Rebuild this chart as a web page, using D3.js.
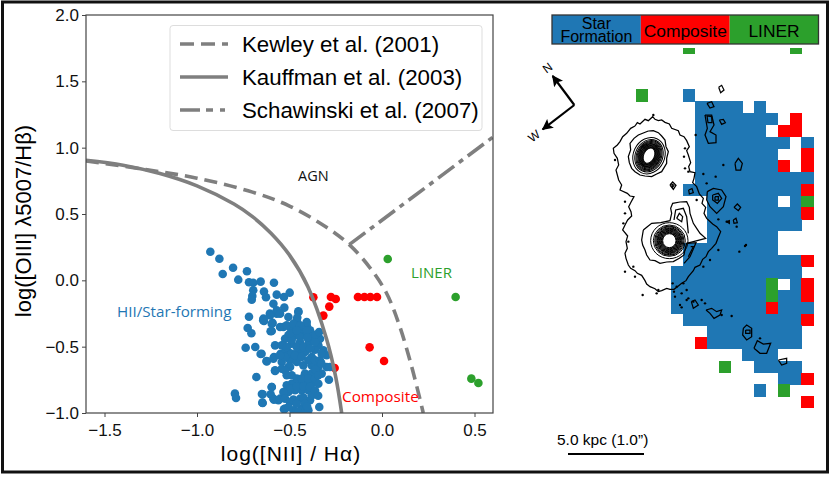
<!DOCTYPE html>
<html>
<head>
<meta charset="utf-8">
<script src="https://cdn.jsdelivr.net/npm/d3@7"></script>
<style>
  body { margin: 0; background: #fff; }
  text { font-family: "Liberation Sans", sans-serif; }
  .note { font-family: "Open Sans", sans-serif; }
</style>
</head>
<body>
<div id="chart"></div>
<script>
// BPT diagram values
var xTicks = [-1.5, -1.0, -0.5, 0.0, 0.5];
var yTicks = [-1.0, -0.5, 0.0, 0.5, 1.0, 1.5, 2.0];

var starForming = [
  [-.642,-.301],[-.606,-.251],[-.569,-.251],[-.596,-.382],[-.591,-.321],[-.506,-.276],[-.452,-.239],[-.461,-.301],
  [-.533,-.352],[-.497,-.352],[-.452,-.352],[-.407,-.339],[-.389,-.377],[-.506,-.414],[-.470,-.414],[-.425,-.402],
  [-.380,-.427],[-.335,-.440],[-.578,-.490],[-.533,-.490],[-.488,-.477],[-.443,-.465],[-.398,-.477],[-.344,-.490],
  [-.362,-.522],[-.651,-.553],[-.624,-.608],[-.584,-.578],[-.548,-.553],[-.506,-.540],[-.452,-.528],[-.416,-.540],
  [-.380,-.578],[-.299,-.565],[-.542,-.615],[-.497,-.603],[-.461,-.615],[-.578,-.678],[-.542,-.666],[-.506,-.653],
  [-.488,-.716],[-.425,-.641],[-.380,-.641],[-.344,-.653],[-.299,-.653],[-.416,-.703],[-.380,-.703],[-.326,-.703],
  [-.287,-.749],[-.488,-.779],[-.452,-.766],[-.416,-.766],[-.380,-.779],[-.596,-.804],[-.645,-.859],[-.645,-.924],
  [-.587,-.892],[-.560,-.904],[-.506,-.842],[-.470,-.829],[-.434,-.829],[-.398,-.829],[-.479,-.899],[-.443,-.892],
  [-.389,-.904],[-.339,-.955],[-.524,-.967],[-.479,-.980],[-.434,-.967],[-.398,-.980],
  [-.928,.216],[-.879,.163],[-.805,.095],[-.730,.068],[-.861,.048],[-.777,.005],[-.719,-.015],[-.696,-.018],
  [-.656,-.010],[-.584,-.018],[-.696,-.075],[-.638,-.085],[-.701,-.118],[-.704,-.146],[-.627,-.128],[-.569,-.108],
  [-.530,-.126],[-.499,-.093],[-.587,-.176],[-.528,-.206],[-.569,-.226],[-.551,-.251],[-.605,-.264],[-.641,-.289],
  [-.638,-.307],[-.719,-.274],[-.596,-.327],[-.602,-.384],[-.726,-.359],[-.706,-.399],[-.452,-.234],[-.458,-.281],
  [-.737,-.508],[-.685,-.503],[-.656,-.555],[-.623,-.611],[-.679,-.729],[-.795,-.854],[-.789,-.887],[-.649,-.857],
  [-.647,-.922],[-.596,-.804],[-.602,-.859],[-.584,-.899],[-.551,-.892],[-.524,-.854],[-.587,-.59],[-.578,-.683],
  [-.530,-.972],
  [-.479,-.377],[-.443,-.377],[-.407,-.377],[-.524,-.440],[-.488,-.447],[-.443,-.427],[-.404,-.432],[-.362,-.465],
  [-.461,-.502],[-.425,-.502],[-.389,-.515],[-.524,-.540],[-.488,-.553],[-.470,-.565],[-.434,-.578],[-.524,-.578],
  [-.497,-.653],[-.524,-.678],[-.515,-.716],[-.461,-.741],[-.434,-.741],[-.398,-.741],[-.362,-.741],[-.398,-.603],
  [-.362,-.603],[-.335,-.603],[-.362,-.673],[-.515,-.791],[-.497,-.816],[-.461,-.799],[-.425,-.799],[-.389,-.804],
  [-.533,-.842],[-.524,-.892],[-.497,-.917],[-.425,-.884],[-.380,-.867],[-.461,-.930],[-.416,-.930],[-.506,-.955],
  [-.452,-.992],[-.416,-.992],[-.317,-.528],[-.407,-.314],[-.551,-.352],[-.515,-.339],[-.479,-.327],[-.443,-.339],
  [-.542,-.490],[-.515,-.503],[-.551,-.565],[-.497,-.402],[-.461,-.377],[-.281,-.653],[-.326,-.553],[-.344,-.715],
  [-.344,-.78],[-.362,-.83],[-.345,-.87],[-.405,-.95],[-.328,-.625],[-.36,-.41],[-.34,-.39]
];
var composite = [
  [-.371,-.128],[-.276,-.126],[-.250,-.141],[-.285,-.198],[-.317,-.266],[-.130,-.126],[-.095,-.126],[-.063,-.126],
  [-.027,-.126],[-.067,-.505],[.011,-.608],[-.256,-.661]
];
var liner = [[.031,.161],[.398,-.126],[.483,-.741],[.521,-.774]];

var kewley = [[-1.6,.90],[-1.3,.84],[-1.0,.77],[-.7,.665],[-.5,.56],[-.3,.40],[-.177,.269],[-.068,.10],[.022,-.09],[.094,-.34],[.166,-.68],[.223,-1.0]];
var kauffman = [[-1.6,.905],[-1.4,.868],[-1.2,.805],[-1.0,.712],[-.8,.575],[-.7,.48],[-.6,.355],[-.5,.19],[-.4,-.05],[-.3,-.44],[-.25,-.73],[-.218,-1.0]];
var schawinski = [[-.177,.269],[.6,1.08]];

var legendNames = ["Kewley et al. (2001)", "Kauffman et al. (2003)", "Schawinski et al. (2007)"];
var plotDash = ["13,7", null, "20,6,5,6"];
var legendDash = ["14,7", null, "20,6,7,7,5,20"];

// spaxel map, one string per row: S star formation, C composite, L liner
var mapClasses = ["Star\nFormation", "Composite", "LINER"];
var mapRows = [
  "....L........L.",
  "...............",
  "...............",
  "...............",
  "L...S..........",
  ".....SSSS.S....",
  ".....SSSSSSS.C.",
  ".....SSSSSS.CC.",
  ".....SSSSSSSS.S",
  ".....SSSSSSS..C",
  ".....SSSSSSSC.C",
  ".....SSSSSSSSSS",
  "....SSSSSSSSSSC",
  "......SSSSSS.SL",
  "......SSSSSSSSC",
  "......SSSSSSSS.",
  "......SSSSSS...",
  "....SSSSSSSS...",
  "....SSSSSSSSSSC",
  "...SSSSSSSSSSS.",
  "...SSSSSSSSL.SC",
  "...SSSSSSSSLSSC",
  "...SSSSSSSSCSSS",
  "....SSSSSSSSSSC",
  "......SSSSSSSS.",
  ".....CSSSSSSSS.",
  ".........SSS...",
  ".......L..SSSS.",
  "............SSC",
  "..........S.L..",
  "..............C"
];
var firstRow = -4;

// flux contours in image units (3 units per screen pixel)
var contourLines = [
  [[315,378],[322,368],[330,372],[345,358],[355,362],[368,350],[375,358],[385,362],[395,360],[405,367],[418,372],[425,385],[445,392],[450,405],[462,410],[470,422],[478,440],[470,452],[475,465],[482,488],[476,500],[480,515],[495,518],[492,535],[488,548],[500,560],[508,582],[520,595],[516,610],[527,622],[522,640],[530,655],[548,672],[560,680],[572,695],[565,712],[558,730],[545,745],[535,755],[528,770],[518,778],[510,795],[495,802],[490,812],[475,830],[468,842],[455,850],[445,858],[432,868],[420,868],[410,865],[395,872],[385,875],[375,866],[360,860],[350,852],[345,842],[335,826],[322,820],[315,812],[302,805],[295,795],[288,775],[285,760],[292,745],[288,725],[293,708],[278,690],[285,675],[293,660],[305,648],[303,635],[296,620],[302,608],[312,590],[300,588],[292,580],[270,570],[275,555],[266,540],[262,525],[258,510],[266,495],[262,475],[252,460],[250,445],[262,435],[270,425],[278,410],[290,400],[302,385],[315,378]],
  [[355,393],[370,392],[385,398],[395,408],[405,420],[408,440],[415,455],[410,475],[410,490],[395,515],[380,522],[365,530],[345,528],[330,525],[315,515],[305,505],[298,488],[295,470],[302,450],[300,430],[312,415],[325,405],[355,393]],
  [[340,690],[352,680],[365,670],[392,668],[420,662],[425,640],[422,625],[428,610],[450,606],[470,605],[478,622],[480,640],[490,670],[500,685],[510,700],[527,715],[490,725],[470,730],[465,748],[462,765],[448,775],[430,785],[410,786],[390,790],[375,782],[360,780],[350,765],[345,750],[338,735],[335,720],[340,690]],
  [[432,660],[437,630],[460,625],[470,650],[475,700]],
  [[440,655],[448,640],[458,650],[455,665],[440,655]],
  [[470,730],[498,728],[480,770],[462,790]],
  [[482,740],[490,740],[475,770]],
  [[525,345],[545,345],[552,375],[540,395],[558,405],[558,428],[535,430],[525,405],[532,385],[525,345]],
  [[531,348],[545,350],[546,368],[534,368],[531,348]],
  [[531,310],[545,305],[552,320],[540,324],[531,310]],
  [[568,360],[580,358],[586,368],[575,373],[568,360]],
  [[566,262],[575,256],[582,270],[572,278],[566,262]],
  [[615,490],[625,475],[637,490],[632,510],[618,510],[615,490]],
  [[532,575],[550,565],[575,570],[588,590],[580,620],[560,640],[540,620],[530,600],[532,575]],
  [[548,585],[565,580],[575,595],[562,610],[548,600],[548,585]],
  [[555,590],[565,590],[565,600],[555,600],[555,590]],
  [[612,622],[622,612],[632,622],[625,632],[612,622]],
  [[528,930],[545,925],[560,935],[575,930],[570,945],[552,955],[540,940],[528,930]],
  [[640,985],[650,975],[665,985],[665,1010],[650,1020],[638,1005],[640,985]],
  [[647,990],[660,990],[660,1000],[647,1000],[647,990]],
  [[672,1045],[682,1022],[700,1032],[722,1030],[710,1060],[690,1060],[672,1045]],
  [[745,1080],[770,1075],[770,1090],[755,1095],[745,1080]],
  [[484,905],[495,900],[505,915],[490,925],[484,905]],
  [[420,555],[428,546],[438,556],[430,568],[420,555]],
  [[425,552],[432,556],[428,562],[425,552]],
  [[476,570],[486,566],[490,578],[478,582],[476,570]],
  [[610,660],[618,655],[622,668],[612,670],[610,660]],
  [[590,665],[598,662],[598,670],[590,665]]
];
var contourDots = [
  [497,405],[580,495],[520,522],[557,530],[530,550],[462,470],[500,600],[565,658],[590,665],[620,680],[648,735],[628,755],
  [565,750],[540,780],[520,800],[470,870],[455,880],[435,890],[450,915],[470,900],[490,905],[515,900],[605,948],[380,880],
  [338,885],[315,830],[285,815],[465,445],[285,605],[645,738],[428,850],[440,860],[432,875],[460,850],[475,895],[455,922],
  [525,910],[575,945],[690,1015],[370,345],[255,480],[285,640],[280,670],[295,725],[310,800],[385,870],[465,505],[475,515]
];
var topRings = [[16,24],[18,26],[20,28],[22,30],[24,32],[26,34],[28,36],[30,38],[32,41],[34,44],[37,47],[41,50],[47,56]];
var bottomRings = [[20,21],[22,23],[24,25],[26,27],[28,29],[30,31],[32,33],[34,35],[36,37],[38,39],[41,42],[44,44],[48,47],[56,54]];

var width = 831, height = 477;
var svg = d3.select("#chart").append("svg").attr("width", width).attr("height", height);

// ---- left panel
var x = d3.scaleLinear().domain([-1.6, 0.6]).range([86, 493]);
var y = d3.scaleLinear().domain([-1, 2]).range([413, 15]);

var clipPlot = svg.append("clipPath").attr("id", "plotclip");
clipPlot.append("rect").attr("x", 86).attr("y", 15).attr("width", 407).attr("height", 398);
var plot = svg.append("g").attr("clip-path", "url(#plotclip)");

function drawPoints(data, color) {
  plot.selectAll(null).data(data).enter().append("circle")
    .attr("cx", function(d) { return x(d[0]); })
    .attr("cy", function(d) { return y(d[1]); })
    .attr("r", 4.3)
    .attr("fill", color);
}
drawPoints(composite, "#ff0000");
drawPoints(liner, "#2ca02c");
drawPoints(starForming, "#1f77b4");

var line = d3.line()
  .x(function(d) { return x(d[0]); })
  .y(function(d) { return y(d[1]); })
  .curve(d3.curveCatmullRom);

[kewley, kauffman, schawinski].forEach(function(c, i) {
  plot.append("path").attr("d", line(c))
    .attr("fill", "none")
    .attr("stroke", "#7f7f7f")
    .attr("stroke-width", 3.6)
    .attr("stroke-dasharray", plotDash[i]);
});

var xAxis = d3.axisBottom(x).tickValues(xTicks).tickSize(4).tickFormat(d3.format(".1f"));
var yAxis = d3.axisLeft(y).tickValues(yTicks).tickSize(4).tickFormat(d3.format(".1f"));
var gx = svg.append("g").attr("transform", "translate(0,413)").call(xAxis);
var gy = svg.append("g").attr("transform", "translate(86,0)").call(yAxis);
gx.selectAll("text").attr("font-size", 17).attr("dy", "0.95em").text(function(d) { return d3.format(".1f")(d).replace("-", "\u2212 "); });
gy.selectAll("text").attr("font-size", 17);
svg.selectAll(".domain").remove();
svg.selectAll(".tick line").attr("stroke", "#444").attr("stroke-width", 1);
gx.selectAll("text").attr("fill", "#111");
gy.selectAll("text").attr("fill", "#111");

svg.append("rect").attr("x", 86).attr("y", 15).attr("width", 407).attr("height", 398)
  .attr("fill", "none").attr("stroke", "#444").attr("stroke-width", 1.2);

svg.append("text").attr("x", 291).attr("y", 461).attr("text-anchor", "middle")
  .attr("font-size", 21).attr("letter-spacing", 1).text("log([NII] / H\u03b1)");
svg.append("text").attr("transform", "translate(31,221) rotate(-90)").attr("text-anchor", "middle")
  .attr("font-size", 22).text("log([OIII] \u03bb5007/H\u03b2)");

// legend
svg.append("rect").attr("x", 170).attr("y", 25.5).attr("width", 312).attr("height", 105).attr("rx", 3)
  .attr("fill", "#fff").attr("stroke", "#ddd");
legendNames.forEach(function(name, i) {
  var ly = 44 + i * 33;
  svg.append("line").attr("x1", 180).attr("x2", 228).attr("y1", ly).attr("y2", ly)
    .attr("stroke", "#7f7f7f").attr("stroke-width", 3.6).attr("stroke-dasharray", legendDash[i]);
  svg.append("text").attr("x", 242).attr("y", ly + 7.5).attr("font-size", 22.3).text(name);
});

// region labels
function note(t, px, py, color, size) {
  svg.append("text").attr("class", "note").attr("x", px).attr("y", py)
    .attr("fill", color).attr("font-size", size).text(t);
}
note("AGN", 298, 180.5, "#111", 14.5);
note("HII/Star-forming", 117, 316.5, "#1f77b4", 15.2);
note("LINER", 411, 278, "#2ca02c", 15);
note("Composite", 342, 401.5, "#ff0000", 15.3);

// ---- right panel
var colors = { S: "#1f77b4", C: "#ff0000", L: "#2ca02c" };
var mapX = d3.scaleBand().domain(d3.range(15)).range([635.8, 813.3]);
var mapY = d3.scaleBand().domain(d3.range(firstRow, firstRow + mapRows.length)).range([89.3 + firstRow * 11.8, 89.3 + (firstRow + mapRows.length) * 11.8]);

var clipMap = svg.append("clipPath").attr("id", "mapclip");
clipMap.append("rect").attr("x", 600).attr("y", 48).attr("width", 231).attr("height", 420);
var map = svg.append("g").attr("clip-path", "url(#mapclip)").attr("shape-rendering", "crispEdges");

mapRows.forEach(function(row, r) {
  row.split("").forEach(function(c, k) {
    if (c === ".") return;
    map.append("rect")
      .attr("x", mapX(k)).attr("y", mapY(firstRow + r))
      .attr("width", mapX.bandwidth() + 0.4).attr("height", mapY.bandwidth() + 0.4)
      .attr("fill", colors[c]);
  });
});

// contours
var imgX = d3.scaleLinear().domain([0, 900]).range([530, 830]);
var imgY = d3.scaleLinear().domain([0, 1431]).range([0, 477]);
var contourPath = d3.line()
  .x(function(d) { return imgX(d[0]); })
  .y(function(d) { return imgY(d[1]); });
var contours = svg.append("g").attr("fill", "none").attr("stroke", "#000");

contourLines.forEach(function(c) {
  contours.append("path").attr("d", contourPath(c)).attr("stroke-width", 1.25);
});
contourDots.forEach(function(d) {
  svg.append("circle").attr("cx", imgX(d[0])).attr("cy", imgY(d[1])).attr("r", 1.2).attr("fill", "#000");
});
topRings.forEach(function(d) {
  contours.append("ellipse")
    .attr("rx", d[0] / 3).attr("ry", d[1] / 3)
    .attr("transform", "translate(" + imgX(357) + "," + imgY(467) + ") rotate(25)")
    .attr("stroke-width", 1);
});
bottomRings.forEach(function(d) {
  contours.append("ellipse")
    .attr("rx", d[0] / 3).attr("ry", d[1] / 3)
    .attr("transform", "translate(" + imgX(418) + "," + imgY(722) + ")")
    .attr("stroke-width", 1);
});

// class colour bar
var barX = d3.scaleBand().domain(mapClasses).range([552, 818.5]);
mapClasses.forEach(function(name, i) {
  svg.append("rect").attr("x", barX(name)).attr("y", 15).attr("width", barX.bandwidth()).attr("height", 29)
    .attr("fill", ["#1f77b4", "#ff0000", "#2ca02c"][i]);
  var parts = name.split("\n");
  parts.forEach(function(p, j) {
    svg.append("text").attr("x", barX(name) + barX.bandwidth() / 2)
      .attr("y", parts.length > 1 ? 29 + j * 12.7 : 36.5)
      .attr("text-anchor", "middle").attr("font-size", parts.length > 1 ? 16 : 17.4).text(p);
  });
});
svg.append("rect").attr("x", 552).attr("y", 15).attr("width", 266.5).attr("height", 29)
  .attr("fill", "none").attr("stroke", "#333").attr("stroke-width", 1.3);

// compass
svg.append("defs").append("marker").attr("id", "head").attr("viewBox", "0 0 10 10")
  .attr("refX", 9).attr("refY", 5).attr("markerWidth", 5).attr("markerHeight", 5).attr("orient", "auto")
  .append("path").attr("d", "M0,0L10,5L0,10L2,5Z").attr("fill", "#000");
[[68, 228], [38, 388]].forEach(function(p) {
  svg.append("line")
    .attr("x1", imgX(133)).attr("y1", imgY(315)).attr("x2", imgX(p[0])).attr("y2", imgY(p[1]))
    .attr("stroke", "#000").attr("stroke-width", 2.2).attr("marker-end", "url(#head)");
});
svg.append("text").attr("transform", "translate(" + imgX(52) + "," + imgY(203) + ") rotate(-37)")
  .attr("text-anchor", "middle").attr("dy", "0.35em").attr("font-size", 12).text("N");
svg.append("text").attr("transform", "translate(" + imgX(12) + "," + imgY(408) + ") rotate(-37)")
  .attr("text-anchor", "middle").attr("dy", "0.35em").attr("font-size", 12).text("W");

// scale bar
svg.append("text").attr("x", 557).attr("y", 445).attr("font-size", 15.5).text("5.0 kpc (1.0\u201d)");
svg.append("line").attr("x1", 568).attr("x2", 644).attr("y1", 454).attr("y2", 454)
  .attr("stroke", "#000").attr("stroke-width", 2);

// figure frame
svg.append("rect").attr("x", 2.5).attr("y", 2).attr("width", 825).attr("height", 470)
  .attr("fill", "none").attr("stroke", "#111").attr("stroke-width", 3);
</script>
</body>
</html>
